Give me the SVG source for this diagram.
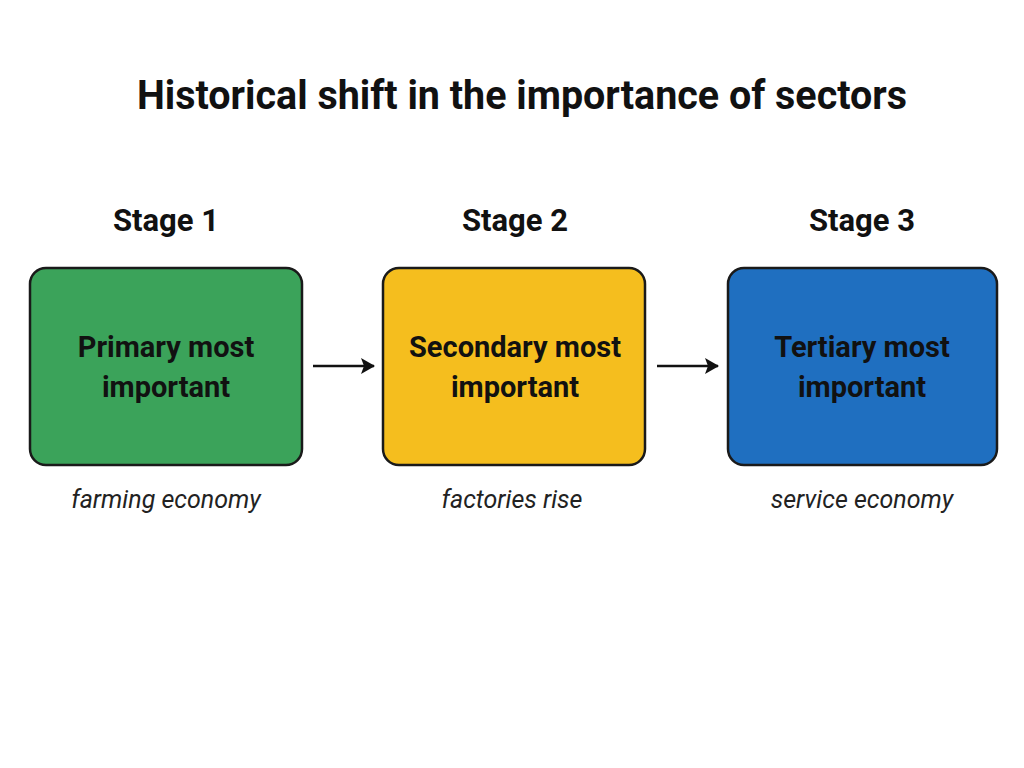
<svg xmlns="http://www.w3.org/2000/svg" width="1024" height="768" viewBox="0 0 1024 768">
<style>
.t{font-family:Roboto,"Liberation Sans",sans-serif;font-weight:bold;fill:#111;text-anchor:middle}
.c{font-family:Roboto,"Liberation Sans",sans-serif;font-style:italic;font-size:25px;fill:#222;text-anchor:middle}
.box{stroke:#1a1a1a;stroke-width:2.5}
</style>
<defs><marker id="ah" markerWidth="14" markerHeight="16" refX="13" refY="8" orient="auto" markerUnits="userSpaceOnUse"><path d="M0,0 L14,8 L0,16 L3,8 z" fill="#111"/></marker></defs>
<rect width="1024" height="768" fill="#fff"/>
<text class="t" x="522" y="109" font-size="40" textLength="770" lengthAdjust="spacingAndGlyphs">Historical shift in the importance of sectors</text>
<g id="n1">
<text class="t" x="166" y="231" font-size="31">Stage 1</text>
<rect class="box" x="30" y="268" width="272" height="197" rx="16" fill="#3BA35A"/>
<text class="t" x="166" y="357" font-size="29">Primary most</text>
<text class="t" x="166" y="397" font-size="29">important</text>
<text class="c" x="166" y="508">farming economy</text>
</g>
<g id="n2">
<text class="t" x="515" y="231" font-size="31">Stage 2</text>
<rect class="box" x="383" y="268" width="262" height="197" rx="16" fill="#F5BE1E"/>
<text class="t" x="515" y="357" font-size="29">Secondary most</text>
<text class="t" x="515" y="397" font-size="29">important</text>
<text class="c" x="512" y="508">factories rise</text>
</g>
<g id="n3">
<text class="t" x="862" y="231" font-size="31">Stage 3</text>
<rect class="box" x="728" y="268" width="269" height="197" rx="16" fill="#1F6FC0"/>
<text class="t" x="862" y="357" font-size="29">Tertiary most</text>
<text class="t" x="862" y="397" font-size="29">important</text>
<text class="c" x="862" y="508">service economy</text>
</g>
<g id="edges" stroke="#111" stroke-width="2.5">
<line x1="313" y1="366" x2="374" y2="366" marker-end="url(#ah)"/>
<line x1="657" y1="366" x2="718" y2="366" marker-end="url(#ah)"/>
</g>
</svg>
